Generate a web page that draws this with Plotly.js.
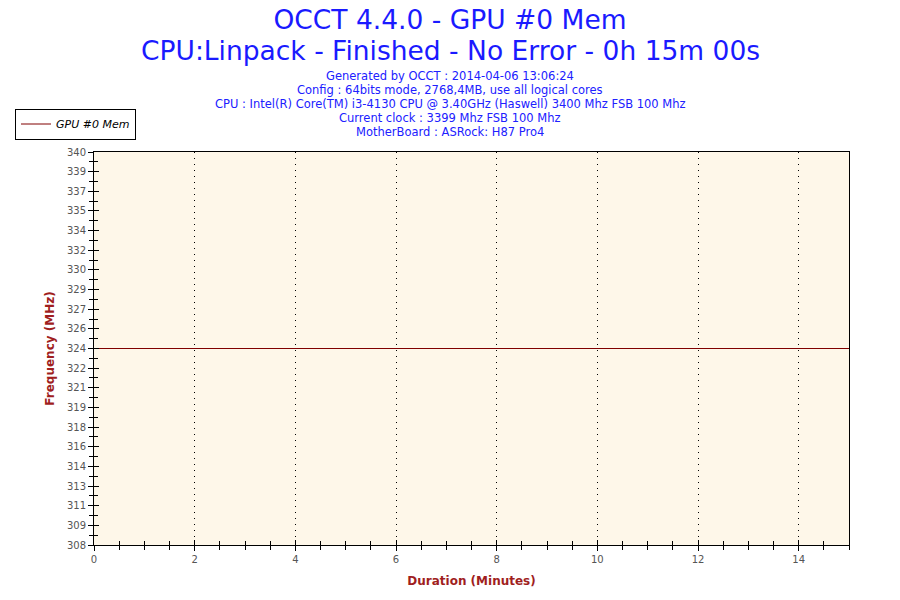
<!DOCTYPE html>
<html><head><meta charset="utf-8">
<script src="https://cdn.plot.ly/plotly-3.0.1.min.js"></script>
<style>body{margin:0;background:#fff}#chart{width:900px;height:600px}</style>
</head><body><div id="chart"></div>
<script>
// Data
const durationMinutes = [0, 15];
const gpuMemFreq = [324, 324];
const seriesName = 'GPU #0 Mem';
const yTickVals = [308, 309.6, 311.2, 312.8, 314.4, 316, 317.6, 319.2, 320.8, 322.4, 324, 325.6, 327.2, 328.8, 330.4, 332, 333.6, 335.2, 336.8, 338.4, 340];
const yTickText = ['308','309','311','313','314','316','318','319','321','322','324','326','327','329','330','332','334','335','337','339','340'];
const titleLine1 = 'OCCT 4.4.0 - GPU #0 Mem';
const titleLine2 = 'CPU:Linpack - Finished - No Error - 0h 15m 00s';
const infoLines = [
  'Generated by OCCT : 2014-04-06 13:06:24',
  'Config : 64bits mode, 2768,4MB, use all logical cores',
  'CPU : Intel(R) Core(TM) i3-4130 CPU @ 3.40GHz (Haswell) 3400 Mhz FSB 100 Mhz',
  'Current clock : 3399 Mhz FSB 100 Mhz',
  'MotherBoard : ASRock: H87 Pro4'
];

const FONT = 'DejaVu Sans, Verdana, sans-serif';
const axisRed = '#A01E1E';
const tickFont = {family: FONT, size: 10, color: '#555'};
const PLOT_LEFT = 94, PLOT_W = 755, PLOT_TOP = 152, PLOT_H = 393;
const py = px => 1 + (PLOT_TOP - px) / PLOT_H;
const pxX = px => (px - PLOT_LEFT) / PLOT_W;

const trace = {
  x: durationMinutes, y: gpuMemFreq, type: 'scatter', mode: 'lines',
  name: seriesName, line: {color: '#800000', width: 1}, showlegend: true
};
const ghost = {
  x: durationMinutes, y: gpuMemFreq, xaxis: 'x2', yaxis: 'y2', type: 'scatter',
  mode: 'lines', line: {color: 'rgba(0,0,0,0)', width: 0}, showlegend: false, hoverinfo: 'skip'
};

const annotations = infoLines.map((t, i) => ({
  text: t, xref: 'paper', yref: 'paper', x: pxX(450), xanchor: 'center',
  y: py(76 + 14 * i), yanchor: 'middle', showarrow: false,
  font: {family: FONT, size: 11.5, color: '#2020ff'}
}));
annotations.push({
  text: titleLine2, xref: 'paper', yref: 'paper', x: pxX(450), xanchor: 'center',
  y: py(51), yanchor: 'middle', showarrow: false,
  font: {family: FONT, size: 26.5, color: '#1a1aff'}
});

const layout = {
  width: 900, height: 600,
  margin: {l: 94, r: 51, t: 152, b: 55},
  paper_bgcolor: '#ffffff', plot_bgcolor: '#FEF7E9',
  title: {text: titleLine1, font: {family: FONT, size: 26.5, color: '#1a1aff'},
          x: 0.5, xanchor: 'center', y: 1 - 20 / 600, yanchor: 'middle', yref: 'container'},
  xaxis: {
    range: [0, 15], tickmode: 'linear', tick0: 0, dtick: 2,
    ticks: 'outside', ticklen: 5, tickcolor: '#000', tickwidth: 1,
    showline: true, linecolor: '#000', linewidth: 1, mirror: true,
    showgrid: true, gridcolor: '#000', griddash: '1px,5px', gridwidth: 1,
    zeroline: false, tickfont: tickFont,
    minor: {dtick: 0.5, tick0: 0, ticks: 'outside', ticklen: 4, tickcolor: '#000', showgrid: false},
    title: {text: 'Duration (Minutes)', font: {family: FONT, size: 12, color: axisRed, weight: 'bold'}, standoff: 12}
  },
  yaxis: {
    range: [308, 340], tickmode: 'array', tickvals: yTickVals, ticktext: yTickText,
    ticks: 'outside', ticklen: 5, tickcolor: '#000', tickwidth: 1,
    showline: true, linecolor: '#000', linewidth: 1, mirror: true,
    showgrid: false, zeroline: false, tickfont: tickFont,
    minor: {tickmode: 'linear', tick0: 308, dtick: 0.8, ticks: 'outside', ticklen: 4, tickcolor: '#000', showgrid: false},
    title: {text: 'Frequency (MHz)', font: {family: FONT, size: 12, color: axisRed, weight: 'bold'}, standoff: 9}
  },
  xaxis2: {
    overlaying: 'x', matches: 'x', range: [0, 15], tickmode: 'linear', tick0: 0, dtick: 2,
    ticks: 'inside', ticklen: 5, tickcolor: '#000', showticklabels: false,
    showgrid: false, zeroline: false, showline: false,
    minor: {dtick: 0.5, tick0: 0, ticks: 'inside', ticklen: 4, tickcolor: '#000', showgrid: false}
  },
  yaxis2: {
    overlaying: 'y', matches: 'y', range: [308, 340], tickmode: 'array', tickvals: yTickVals,
    ticks: 'inside', ticklen: 5, tickcolor: '#000', showticklabels: false,
    showgrid: false, zeroline: false, showline: false,
    minor: {tickmode: 'linear', tick0: 308, dtick: 0.8, ticks: 'inside', ticklen: 4, tickcolor: '#000', showgrid: false}
  },
  showlegend: true,
  legend: {
    x: pxX(15), xanchor: 'left', y: py(124), yanchor: 'middle',
    bgcolor: '#ffffff', bordercolor: '#000', borderwidth: 1,
    font: {family: FONT, size: 11, color: '#000', style: 'italic'},
    itemwidth: 30, tracegroupgap: 0
  },
  annotations: annotations
};

Plotly.newPlot('chart', [trace, ghost], layout, {staticPlot: true, displayModeBar: false});
</script></body></html>
